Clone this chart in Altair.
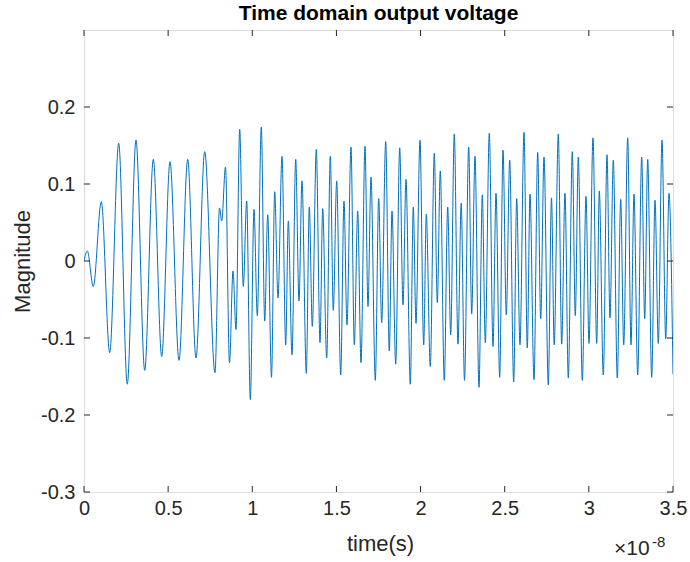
import altair as alt
import pandas as pd

# time in units of 1e-8 s (extrema)
time_s = [
    0.0, 0.0196, 0.0553, 0.1028, 0.1527, 0.2062, 0.2573, 0.3090, 0.3607, 0.4118,
    0.4617, 0.5110, 0.5645, 0.6162, 0.6655, 0.7172, 0.7784, 0.8052, 0.8183, 0.8408,
    0.8646, 0.8854, 0.9032, 0.9252, 0.9466, 0.9668, 0.9882, 1.0102, 1.0298, 1.0536,
    1.0738, 1.0916, 1.1142, 1.1332, 1.1528, 1.1766, 1.1986, 1.2140, 1.2360, 1.2580,
    1.2776, 1.2954, 1.3210, 1.3388, 1.3566, 1.3804, 1.4024, 1.4184, 1.4422, 1.4636,
    1.4814, 1.5016, 1.5254, 1.5450, 1.5628, 1.5866, 1.6062, 1.6264, 1.6460, 1.6698,
    1.6876, 1.7054, 1.7310, 1.7512, 1.7690, 1.7928, 1.8142, 1.8302, 1.8522, 1.8760,
    1.8956, 1.9134, 1.9390, 1.9568, 1.9728, 1.9966, 2.0186, 2.0341, 2.0578, 2.0816,
    2.0994, 2.1172, 2.1410, 2.1612, 2.1790, 2.2004, 2.2224, 2.2414, 2.2610, 2.2860,
    2.3038, 2.3234, 2.3472, 2.3668, 2.3847, 2.4084, 2.4304, 2.4482, 2.4702, 2.4898,
    2.5095, 2.5296, 2.5534, 2.5712, 2.5908, 2.6146, 2.6342, 2.6503, 2.6740, 2.6960,
    2.7139, 2.7335, 2.7590, 2.7780, 2.7941, 2.8184, 2.8386, 2.8582, 2.8779, 2.9016,
    2.9195, 2.9373, 2.9611, 2.9830, 3.0009, 3.0246, 3.0466, 3.0621, 3.0859, 3.1078,
    3.1256, 3.1453, 3.1690, 3.1892, 3.2071, 3.2308, 3.2504, 3.2683, 3.2902, 3.3140,
    3.3318, 3.3497, 3.3735, 3.3931, 3.4127, 3.4347, 3.4567, 3.4763, 3.5,
]
magnitude = [
    0.0, 0.013, -0.033, 0.077, -0.119, 0.153, -0.160, 0.157, -0.142, 0.132,
    -0.124, 0.129, -0.129, 0.132, -0.126, 0.142, -0.145, 0.069, 0.052, 0.122,
    -0.132, -0.013, -0.089, 0.171, -0.033, 0.078, -0.180, 0.067, -0.071, 0.174,
    -0.078, 0.060, -0.151, 0.090, -0.048, 0.136, -0.109, 0.052, -0.122, 0.132,
    -0.052, 0.104, -0.146, 0.070, -0.085, 0.145, -0.106, 0.068, -0.126, 0.136,
    -0.064, 0.104, -0.148, 0.078, -0.083, 0.148, -0.109, 0.065, -0.132, 0.149,
    -0.059, 0.109, -0.155, 0.081, -0.080, 0.155, -0.117, 0.065, -0.134, 0.147,
    -0.057, 0.106, -0.160, 0.070, -0.081, 0.157, -0.109, 0.061, -0.137, 0.140,
    -0.054, 0.117, -0.155, 0.070, -0.096, 0.165, -0.108, 0.075, -0.155, 0.148,
    -0.069, 0.136, -0.164, 0.086, -0.106, 0.166, -0.111, 0.088, -0.151, 0.144,
    -0.070, 0.131, -0.157, 0.081, -0.109, 0.167, -0.113, 0.087, -0.154, 0.141,
    -0.075, 0.135, -0.161, 0.082, -0.109, 0.165, -0.108, 0.088, -0.152, 0.142,
    -0.071, 0.135, -0.155, 0.084, -0.107, 0.160, -0.107, 0.091, -0.148, 0.138,
    -0.074, 0.131, -0.152, 0.080, -0.109, 0.160, -0.109, 0.087, -0.148, 0.135,
    -0.075, 0.132, -0.151, 0.079, -0.107, 0.157, -0.101, 0.088, -0.147,
]

x_ticks = [0, 0.5, 1, 1.5, 2, 2.5, 3, 3.5]
y_ticks = [-0.3, -0.2, -0.1, 0, 0.1, 0.2]

title_text = "Time domain output voltage"
exp_text = "×10"
exp_sup_text = "-8"

W, H = 589, 462
AX = "#262626"
FONT = "Liberation Sans"

df = pd.DataFrame({"t": time_s, "v": magnitude})
xt = pd.DataFrame({"t": x_ticks})
yt = pd.DataFrame({"v": y_ticks})

xscale = alt.Scale(domain=[0, 3.5], nice=False, zero=False)
yscale = alt.Scale(domain=[-0.3, 0.3], nice=False, zero=False)

line = alt.Chart(df).mark_line(
    interpolate="monotone", color="#0072BD", strokeWidth=1, clip=True
).encode(
    x=alt.X("t:Q", scale=xscale, axis=alt.Axis(
        values=x_ticks, title="time(s)", grid=False, domain=False, ticks=False,
        labelExpr="toString(datum.value)", labelFontSize=20, labelFont=FONT,
        labelColor=AX, labelPadding=6, titleFontSize=22, titleFont=FONT,
        titleFontWeight="normal", titleColor=AX, titleX=296, titleY=51,
        titleBaseline="middle", labelFlush=False,
    )),
    y=alt.Y("v:Q", scale=yscale, axis=alt.Axis(
        values=y_ticks, title="Magnitude", grid=False, domain=False, ticks=False,
        labelExpr="datum.value == 0 ? '0' : toString(round(datum.value*10)/10)",
        labelFontSize=20, labelFont=FONT, labelColor=AX, labelPadding=9,
        titleFontSize=22, titleFont=FONT, titleFontWeight="normal",
        titleColor=AX, titleX=-62, titleY=231, titleBaseline="middle",
        titleAlign="center", labelFlush=False,
    )),
)

tick_len = 6
xb = alt.Chart(xt).mark_rule(color=AX, strokeWidth=1).encode(
    x=alt.X("t:Q", scale=xscale), y=alt.value(H), y2=alt.value(H - tick_len))
xtop = alt.Chart(xt).mark_rule(color=AX, strokeWidth=1).encode(
    x=alt.X("t:Q", scale=xscale), y=alt.value(0), y2=alt.value(tick_len))
yl = alt.Chart(yt).mark_rule(color=AX, strokeWidth=1).encode(
    y=alt.Y("v:Q", scale=yscale), x=alt.value(0), x2=alt.value(tick_len))
yr = alt.Chart(yt).mark_rule(color=AX, strokeWidth=1).encode(
    y=alt.Y("v:Q", scale=yscale), x=alt.value(W), x2=alt.value(W - tick_len))

title_mark = alt.Chart(pd.DataFrame({"s": [title_text]})).mark_text(
    font=FONT, fontSize=21, fontWeight="bold", color="#000000",
    align="center", baseline="alphabetic"
).encode(text="s:N", x=alt.value(W / 2), y=alt.value(-10))

exp_base = alt.Chart(pd.DataFrame({"s": [exp_text]})).mark_text(
    font=FONT, fontSize=21, color=AX, align="left", baseline="alphabetic"
).encode(text="s:N", x=alt.value(530), y=alt.value(525))
exp_sup = alt.Chart(pd.DataFrame({"s": [exp_sup_text]})).mark_text(
    font=FONT, fontSize=15, color=AX, align="left", baseline="alphabetic"
).encode(text="s:N", x=alt.value(568), y=alt.value(517))

chart = alt.layer(line, xb, xtop, yl, yr, title_mark, exp_base, exp_sup).properties(
    width=W, height=H,
    autosize=alt.AutoSizeParams(type="none"),
    padding={"left": 84, "top": 30, "right": 17, "bottom": 70},
).configure_view(stroke=AX, strokeWidth=1).configure(background="white")

chart.save("out.html", embed_options={"renderer": "svg", "actions": False})
